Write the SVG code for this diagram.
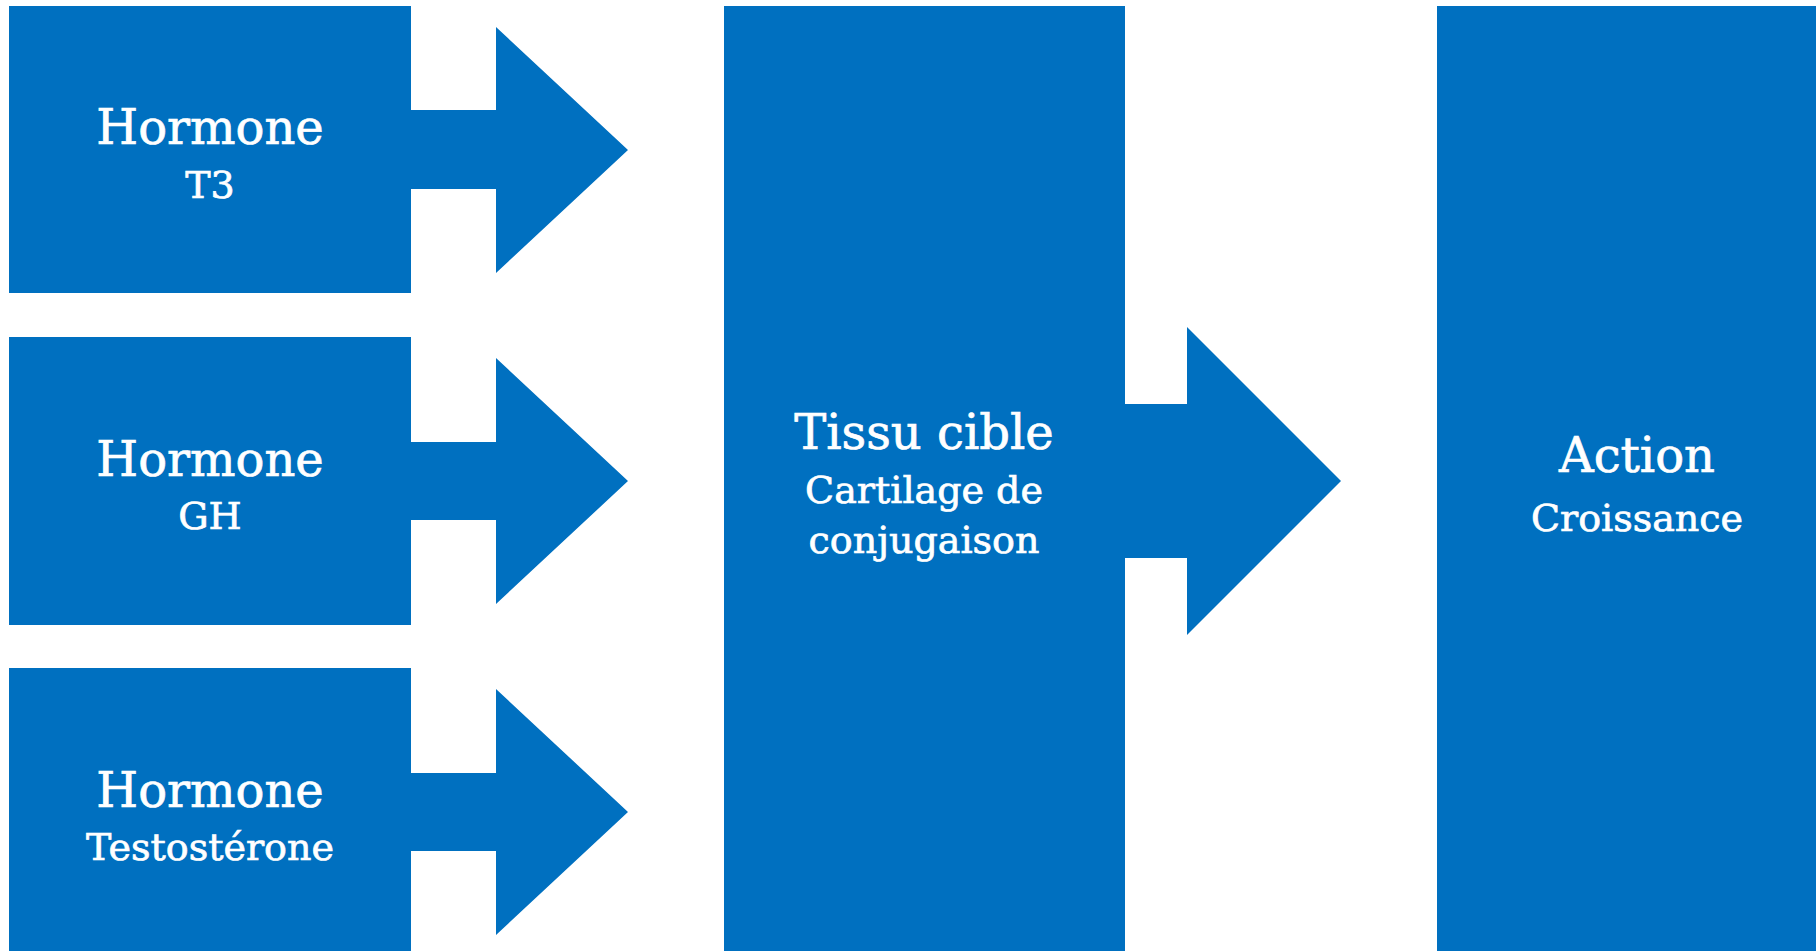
<svg xmlns="http://www.w3.org/2000/svg" width="1816" height="951" viewBox="0 0 1816 951">
<style>
.n{fill:#0070C0}
.t{font-family:"DejaVu Serif","Liberation Serif",serif;fill:#fff;stroke:#fff;stroke-width:0.7px;text-anchor:middle}
.h{font-size:48px}
.s{font-size:38px}
</style>
<rect width="1816" height="951" fill="#fff"/>
<g id="connectors" class="n">
<polygon points="411,110 496,110 496,27 628,150 496,273 496,189 411,189"/>
<polygon points="411,442 496,442 496,358 628,481 496,604 496,520 411,520"/>
<polygon points="411,773 496,773 496,689 628,812 496,935 496,851 411,851"/>
<polygon points="1125,404 1187,404 1187,327 1341,481 1187,635 1187,558 1125,558"/>
</g>
<g id="node-t3">
<rect class="n" x="9" y="6" width="402" height="287"/>
<text class="t h" x="210" y="144">Hormone</text>
<text class="t s" x="210" y="198">T3</text>
</g>
<g id="node-gh">
<rect class="n" x="9" y="337" width="402" height="288"/>
<text class="t h" x="210" y="476">Hormone</text>
<text class="t s" x="210" y="529">GH</text>
</g>
<g id="node-testosterone">
<rect class="n" x="9" y="668" width="402" height="288"/>
<text class="t h" x="210" y="807">Hormone</text>
<text class="t s" x="210" y="860">Testostérone</text>
</g>
<g id="node-tissu">
<rect class="n" x="724" y="6" width="401" height="950"/>
<text class="t h" x="924" y="449">Tissu cible</text>
<text class="t s" x="924" y="503">Cartilage de</text>
<text class="t s" x="924" y="553">conjugaison</text>
</g>
<g id="node-action">
<rect class="n" x="1437" y="6" width="400" height="950"/>
<text class="t h" x="1637" y="472">Action</text>
<text class="t s" x="1637" y="531">Croissance</text>
</g>
</svg>
